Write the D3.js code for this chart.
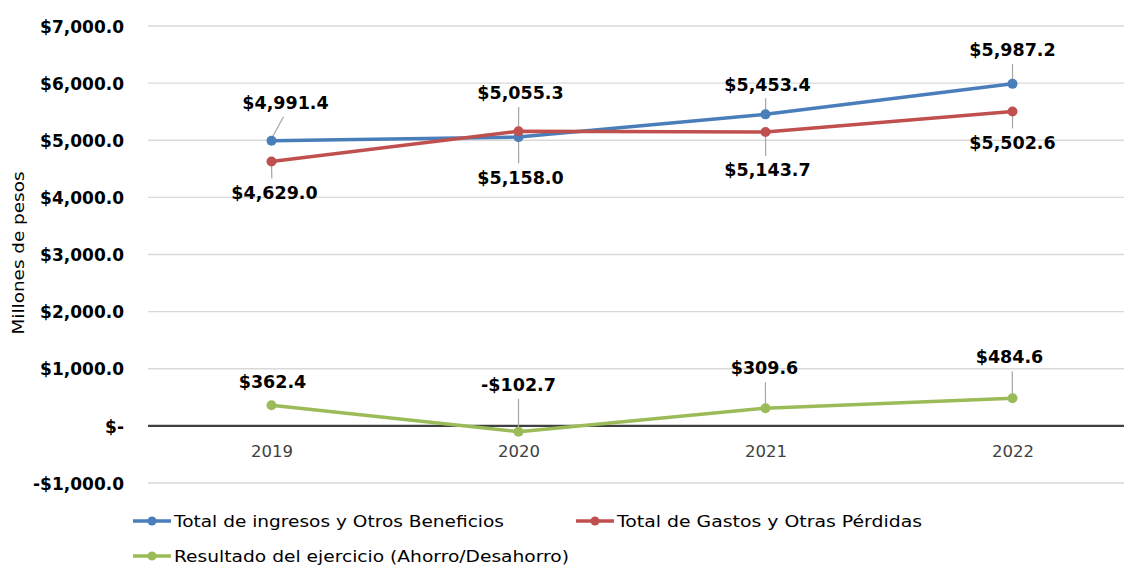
<!DOCTYPE html>
<html><head><meta charset="utf-8">
<script src="https://cdn.jsdelivr.net/npm/d3@7"></script>
<style>
html,body{margin:0;padding:0;background:#fff;}
svg{display:block;}
</style></head>
<body>
<svg id="chart" width="1124" height="566"></svg>
<script>
const years = ["2019", "2020", "2021", "2022"];
const ingresos = [4991.4, 5055.3, 5453.4, 5987.2];
const gastos = [4629.0, 5158.0, 5143.7, 5502.6];
const resultado = [362.4, -102.7, 309.6, 484.6];
const yTicks = [-1000, 0, 1000, 2000, 3000, 4000, 5000, 6000, 7000];
const seriesNames = ["Total de ingresos y Otros Beneficios", "Total de Gastos y Otras Pérdidas", "Resultado del ejercicio (Ahorro/Desahorro)"];

// placement config (label offsets relative to the point)
const labelOffsets = [
  [[14, -38], [2, -44], [2, -30], [0, -34]],
  [[3, 31], [2, 46], [2, 38], [0, 31]],
  [[1, -23], [0, -47], [-1, -40], [-3, -41]]
];
const colors = ["#4a7ebb", "#c0504d", "#9bbb59"];
const FONT = "'DejaVu Sans', sans-serif";

const svg = d3.select("#chart");
const x = d3.scalePoint().domain(years).range([148, 1136]).padding(0.5);
const y = d3.scaleLinear().domain([-1000, 7000]).range([483, 26]);

const fmt = v => (v < 0 ? "-$" : "$") + d3.format(",.1f")(Math.abs(v));
const tickFmt = v => v === 0 ? "$-" : (v < 0 ? "-$" : "$") + d3.format(",.1f")(Math.abs(v));

// gridlines
svg.append("g").selectAll("line").data(yTicks.filter(d => d !== 0)).join("line")
  .attr("x1", 148).attr("x2", 1124)
  .attr("y1", d => y(d)).attr("y2", d => y(d))
  .attr("stroke", "#d9d9d9").attr("stroke-width", 1.3);

// y axis labels
const yAxis = d3.axisLeft(y).tickValues(yTicks).tickFormat(tickFmt).tickSize(0).tickPadding(0);
const yg = svg.append("g").attr("transform", "translate(124,0)").call(yAxis);
yg.select(".domain").remove();
yg.selectAll("text").attr("font-family", FONT).attr("font-weight", 700)
  .attr("font-size", 17).attr("fill", "#000").attr("dy", "0.36em");

// axis title
svg.append("text").attr("transform", "translate(24,253) rotate(-90)")
  .attr("text-anchor", "middle").attr("font-family", FONT)
  .attr("font-size", 15.5).attr("fill", "#000")
  .attr("textLength", 163).attr("lengthAdjust", "spacingAndGlyphs")
  .text("Millones de pesos");

// x axis (zero line)
const xAxis = d3.axisBottom(x).tickSize(0).tickPadding(19);
const xg = svg.append("g").attr("transform", `translate(0,${y(0)})`).call(xAxis);
xg.select(".domain").remove();
xg.selectAll("text").attr("font-family", FONT).attr("font-size", 16.5)
  .attr("fill", "#404040");
svg.append("line").attr("x1", 148).attr("x2", 1124).attr("y1", y(0)).attr("y2", y(0))
  .attr("stroke", "#404040").attr("stroke-width", 2.2);

const allSeries = [ingresos, gastos, resultado];
const line = d3.line().x((d, i) => x(years[i])).y(d => y(d));

allSeries.forEach((s, si) => {
  svg.append("path").datum(s).attr("d", line).attr("fill", "none")
    .attr("stroke", colors[si]).attr("stroke-width", 3.5).attr("stroke-linejoin", "round");
});

// leaders
allSeries.forEach((s, si) => {
  s.forEach((v, i) => {
    const px = x(years[i]), py = y(v);
    const [ox, oy] = labelOffsets[si][i];
    const lx = px + ox, ly = py + oy;
    if (Math.abs(oy) < 28) return;
    const sign = oy < 0 ? 1 : -1;
    const y1 = ly + sign * 14;
    svg.append("line").attr("x1", ox > 5 ? lx - 2 : px + ox * 0.1).attr("y1", y1)
      .attr("x2", px).attr("y2", py + sign * -2)
      .attr("stroke", "#a6a6a6").attr("stroke-width", 1.2);
  });
});

allSeries.forEach((s, si) => {
  svg.append("g").selectAll("circle").data(s).join("circle")
    .attr("cx", (d, i) => x(years[i])).attr("cy", d => y(d)).attr("r", 5)
    .attr("fill", colors[si]);
});

// data labels
allSeries.forEach((s, si) => {
  svg.append("g").selectAll("text").data(s).join("text")
    .attr("x", (d, i) => x(years[i]) + labelOffsets[si][i][0])
    .attr("y", (d, i) => y(d) + labelOffsets[si][i][1])
    .attr("dy", "0.36em").attr("text-anchor", "middle")
    .attr("font-family", FONT).attr("font-weight", 700)
    .attr("font-size", 17.5).attr("fill", "#000").text(fmt);
});

// legend
const legendPos = [[133, 521], [576, 521], [133, 556]];
const legendWidths = [330, 305, 395];
seriesNames.forEach((n, i) => {
  const [lx, ly] = legendPos[i];
  const g = svg.append("g").attr("transform", `translate(${lx},${ly})`);
  g.append("line").attr("x1", 0).attr("x2", 38).attr("y1", 0).attr("y2", 0)
    .attr("stroke", colors[i]).attr("stroke-width", 3.5);
  g.append("circle").attr("cx", 19).attr("cy", 0).attr("r", 4.5).attr("fill", colors[i]);
  g.append("text").attr("x", 41).attr("y", 0).attr("dy", "0.36em")
    .attr("font-family", FONT).attr("font-size", 16.5).attr("fill", "#000")
    .attr("textLength", legendWidths[i]).attr("lengthAdjust", "spacingAndGlyphs")
    .text(n);
});
</script>
</body></html>
